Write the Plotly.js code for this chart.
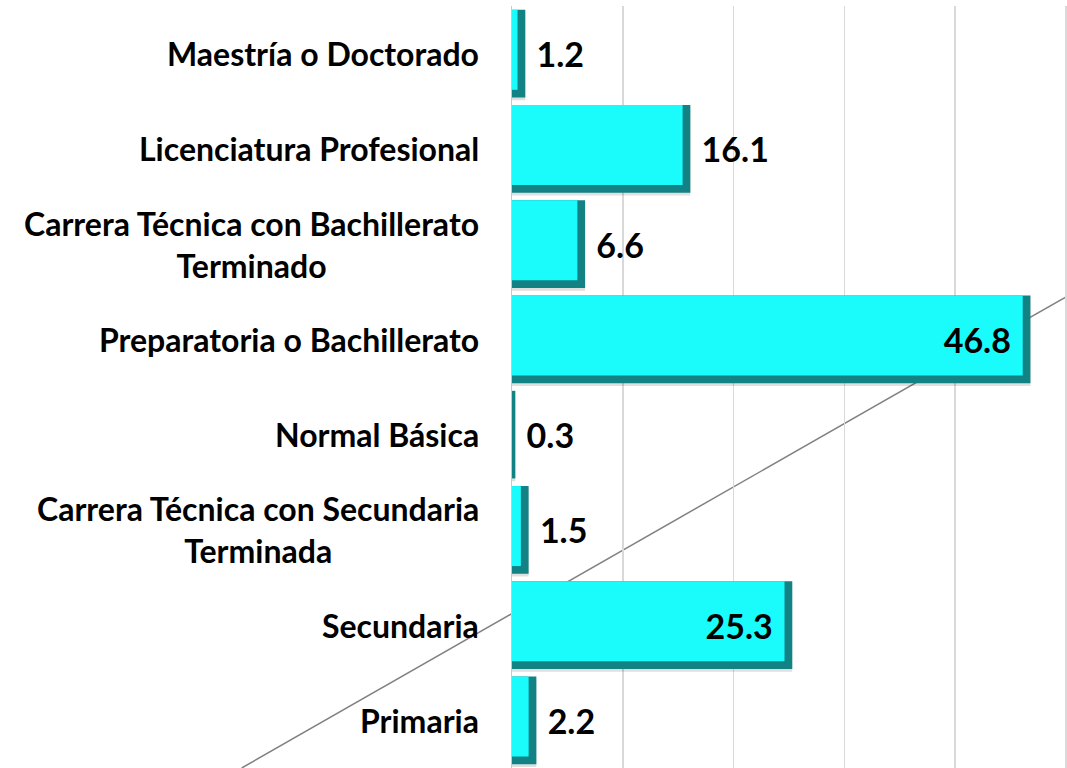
<!DOCTYPE html>
<html>
<head>
<meta charset="utf-8">
<script src="https://cdn.plot.ly/plotly-3.0.1.min.js"></script>
<style>
  html, body { margin: 0; padding: 0; background: #ffffff; }
  #chart { width: 1067px; height: 768px; }
</style>
</head>
<body>
<div id="chart"></div>
<script>
// ---- data (top to bottom) ----
const categories = [
  "Maestría o Doctorado",
  "Licenciatura Profesional",
  "Carrera Técnica con Bachillerato Terminado",
  "Preparatoria o Bachillerato",
  "Normal Básica",
  "Carrera Técnica con Secundaria Terminada",
  "Secundaria",
  "Primaria"
];
const tickLabels = [
  "Maestría o Doctorado",
  "Licenciatura Profesional",
  "Carrera Técnica con Bachillerato<br>Terminado",
  "Preparatoria o Bachillerato",
  "Normal Básica",
  "Carrera Técnica con Secundaria<br>Terminada",
  "Secundaria",
  "Primaria"
];
const values = [1.2, 16.1, 6.6, 46.8, 0.3, 1.5, 25.3, 2.2];
const labelPlacement = ["outside", "outside", "outside", "inside", "outside", "outside", "inside", "outside"];

// ---- style ----
const FONT = "Lato, 'Open Sans', 'DejaVu Sans', sans-serif";
const bevel = 0.7;       // width of the dark right bevel, in axis units
const barW = 0.92;

const shadow = {
  type: "bar", orientation: "h", y: categories, x: values,
  width: barW, offset: -0.43,
  marker: { color: "rgba(0,0,0,0.12)", line: { width: 0 } },
  hoverinfo: "skip", showlegend: false
};
const base = {
  type: "bar", orientation: "h", y: categories, x: values,
  width: barW, offset: -0.46,
  marker: { color: "#128285", line: { width: 0 } },
  hoverinfo: "skip", showlegend: false
};
const face = {
  type: "bar", orientation: "h", y: categories,
  x: values.map(v => Math.max(v - bevel, 0)),
  width: 0.84, offset: -0.46,
  marker: { color: "#1AFCFC", line: { width: 0 } },
  hoverinfo: "skip", showlegend: false
};
const labels = {
  type: "bar", orientation: "h", y: categories, x: values,
  width: barW, offset: -0.46,
  marker: { color: "rgba(0,0,0,0)", line: { width: 0 } },
  text: values.map((v, i) => labelPlacement[i] === "inside" ? v.toFixed(1) + "\u00a0\u00a0" : "\u00a0" + v.toFixed(1)),
  textposition: labelPlacement,
  insidetextanchor: "end",
  constraintext: "none",
  cliponaxis: false,
  textfont: { family: FONT, size: 34, color: "#000000", weight: 700 },
  insidetextfont: { family: FONT, size: 34, color: "#000000", weight: 700 },
  outsidetextfont: { family: FONT, size: 34, color: "#000000", weight: 700 },
  hoverinfo: "skip", showlegend: false
};

const annotations = categories.map((c, i) => ({
  xref: "paper", yref: "y", x: 0, y: c,
  xanchor: "right", yanchor: "middle", xshift: -31,
  text: tickLabels[i], align: "center", showarrow: false,
  font: { family: FONT, size: 32, color: "#000000", weight: 700 }
}));

const layout = {
  width: 1067, height: 768,
  margin: { l: 512, r: 0, t: 6, b: 0, pad: 0 },
  paper_bgcolor: "#ffffff", plot_bgcolor: "#ffffff",
  barmode: "overlay",
  showlegend: false,
  xaxis: {
    range: [0, 50.1], dtick: 10, tick0: 0,
    showgrid: true, gridcolor: "#d9d9d9", gridwidth: 1.5,
    zeroline: false, showline: false, showticklabels: false, ticks: "",
    fixedrange: true
  },
  yaxis: {
    type: "category", autorange: "reversed",
    showticklabels: false, ticks: "",
    showgrid: false, zeroline: false,
    showline: true, linecolor: "#c8c8c8", linewidth: 1.5,
    fixedrange: true
  },
  shapes: [{
    type: "line", xref: "paper", yref: "paper", layer: "below",
    x0: -0.487, y0: 0, x1: 1, y1: 0.619,
    line: { color: "#808080", width: 1.5 }
  }],
  annotations: annotations
};

Plotly.newPlot("chart", [shadow, base, face, labels], layout, { displayModeBar: false, staticPlot: true });
</script>
</body>
</html>
